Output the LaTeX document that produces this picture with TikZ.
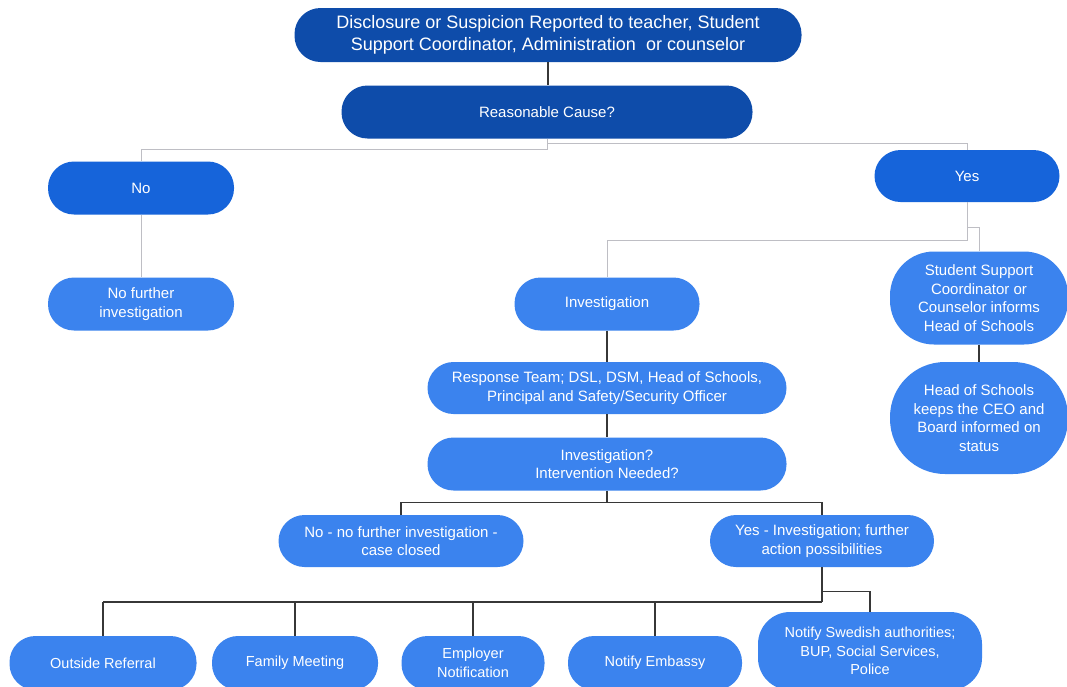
\documentclass[tikz,border=0pt]{standalone}
\usepackage{fontspec}
\setmainfont{Liberation Sans}
\usepackage{tikz}
\usepackage{xcolor}
\definecolor{darkbox}{RGB}{14,76,170}
\definecolor{midbox}{RGB}{22,100,218}
\definecolor{lightbox}{RGB}{59,131,238}
\definecolor{palegray}{RGB}{190,190,196}
\definecolor{darkgray}{RGB}{55,55,55}

\begin{document}
\begin{tikzpicture}[x=1pt, y=-1pt,
    box/.style={fill=lightbox, text=white, rounded corners=26pt, align=center,
        inner sep=0pt, font=\fontsize{15}{18.5}\selectfont},
    link/.style={darkgray, line width=1.1pt},
    softlink/.style={palegray, line width=1pt}]
    \path[use as bounding box, fill=white] (0,0) rectangle (1067,686);

    % top of the chart
    \node[box, fill=darkbox, minimum width=507pt, minimum height=54pt,
        font=\fontsize{18}{22}\selectfont] (report) at (548,35)
        {Disclosure or Suspicion Reported to teacher, Student\\Support Coordinator, Administration\ \ or counselor};
    \node[box, fill=darkbox, minimum width=411pt, minimum height=53pt] (cause) at (547,112) {Reasonable Cause?};
    \node[box, fill=midbox, minimum width=186pt, minimum height=53pt] (no) at (141,188) {No};
    \node[box, fill=midbox, minimum width=185pt, minimum height=52pt] (yes) at (967,176) {Yes};

    % no / yes branches
    \node[box, minimum width=186pt, minimum height=53pt] (nofurther) at (141,304) {No further\\investigation};
    \node[box, minimum width=185pt, minimum height=53pt] (invest) at (607,304) {Investigation};
    \node[box, minimum width=178pt, minimum height=93pt, rounded corners=44pt] (ssc) at (979,298)
        {Student Support\\Coordinator or\\Counselor informs\\Head of Schools};
    \node[box, minimum width=178pt, minimum height=112pt, rounded corners=55pt] (hos) at (979,418)
        {Head of Schools\\keeps the CEO and\\Board informed on\\status};

    % response team
    \node[box, minimum width=359pt, minimum height=52pt] (team) at (607,388)
        {Response Team; DSL, DSM, Head of Schools,\\Principal and Safety/Security Officer};
    \node[box, minimum width=359pt, minimum height=53pt] (needed) at (607,464)
        {Investigation?\\Intervention Needed?};
    \node[box, minimum width=245pt, minimum height=52pt] (closed) at (401,541)
        {No - no further investigation -\\case closed};
    \node[box, minimum width=224pt, minimum height=52pt] (action) at (822,541)
        {Yes - Investigation; further\\action possibilities};

    % possible actions
    \tikzset{actbox/.style={box, minimum height=54pt, font=\fontsize{14.5}{18.5}\selectfont}}
    \node[actbox, minimum width=187pt] (referral) at (103,663) {Outside Referral};
    \node[actbox, minimum width=166pt] (family) at (295,663) {Family Meeting};
    \node[actbox, minimum width=143pt] (employer) at (473,663) {Employer\\Notification};
    \node[actbox, minimum width=174pt] (embassy) at (655,663) {Notify Embassy};
    \node[actbox, minimum width=224pt, minimum height=78pt, rounded corners=32pt] (swedish) at (870,651)
        {Notify Swedish authorities;\\BUP, Social Services,\\Police};

    % connectors
    \draw[link] (report.south) -- (report.south |- cause.north);
    \draw[softlink] (cause.south) -- ++(0,11) -| (no.north);
    \draw[softlink] (cause.south) ++(0,5) -| (yes.north);
    \draw[softlink] (no) -- (nofurther);
    \draw[softlink] (yes.south) -- ++(0,38) -| (invest.north);
    \draw[softlink] (yes.south) ++(0,25) -| (ssc.north);
    \draw[link] (ssc) -- (hos);
    \draw[link] (invest) -- (team);
    \draw[link] (team) -- (needed);
    \draw[link] (needed.south) -- ++(0,12) -| (closed.north);
    \draw[link] (needed.south) ++(0,12) -| (action.north);

    \path (action.south) ++(0,35) coordinate (bus);
    \draw[link] (action.south) -- (bus);
    \draw[link, line width=2.2pt] (bus) -- (bus -| referral.north);
    \foreach \act in {referral, family, employer, embassy}
        \draw[link] (\act.north) -- (\act.north |- bus);
    \draw[link] (action.south) ++(0,24) -| (swedish.north);
\end{tikzpicture}
\end{document}
